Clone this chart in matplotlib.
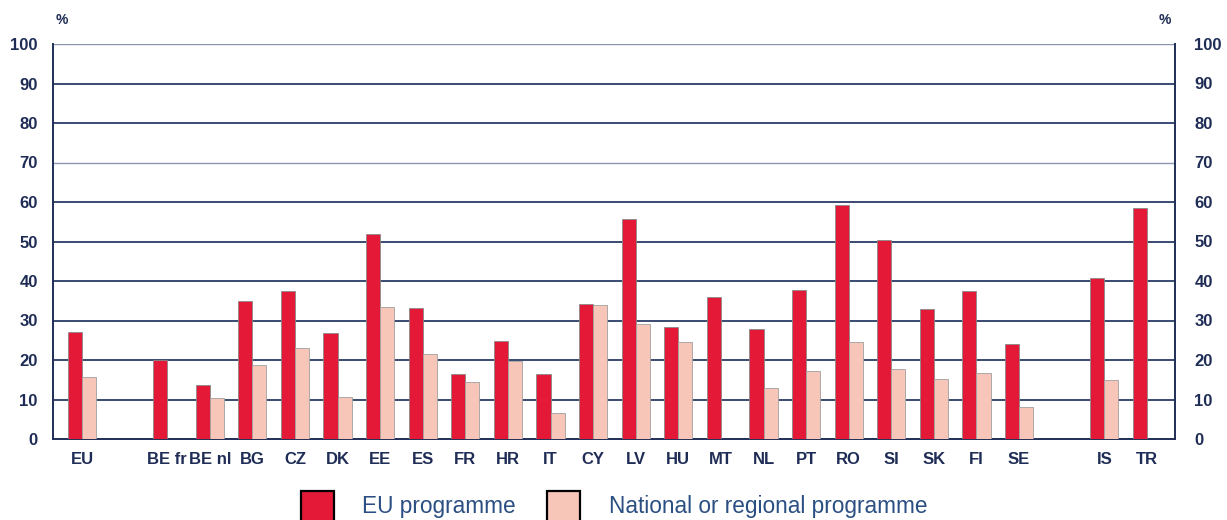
import numpy as np
import matplotlib
matplotlib.use("Agg")
import matplotlib.pyplot as plt
from matplotlib.patches import Rectangle
from matplotlib import font_manager

# Share of pupils taking part in mobility programmes (%)
countries = ["EU", "", "BE fr", "BE nl", "BG", "CZ", "DK", "EE", "ES", "FR", "HR", "IT",
             "CY", "LV", "HU", "MT", "NL", "PT", "RO", "SI", "SK", "FI", "SE", "", "IS", "TR"]
eu_programme = [27.2, None, 20.0, 13.6, 34.9, 37.5, 26.8, 51.9, 33.2, 16.5, 24.9, 16.5,
                34.2, 55.7, 28.4, 35.9, 27.8, 37.7, 59.2, 50.4, 33.0, 37.5, 24.1, None, 40.7, 58.5]
national_programme = [15.6, None, None, 10.3, 18.7, 23.0, 10.6, 33.5, 21.5, 14.4, 19.8, 6.5,
                      33.9, 29.0, 24.5, None, 12.9, 17.3, 24.6, 17.8, 15.1, 16.8, 8.0, None, 14.9, None]
y_ticks = [0, 10, 20, 30, 40, 50, 60, 70, 80, 90, 100]

RED = "#E31937"
PINK = "#F7C6B8"
NAVY = "#1F2D56"
GRID = "#3A4A72"
LEG_TXT = "#2B4F82"

available = {f.name for f in font_manager.fontManager.ttflist}
NARROW = "Liberation Sans Narrow" if "Liberation Sans Narrow" in available else "Liberation Sans"
TICK_SIZE = 14 if NARROW == "Liberation Sans Narrow" else 12
FONT = "Liberation Sans"

W, H = 1227, 520
fig = plt.figure(figsize=(W / 100, H / 100), dpi=100)
ax = fig.add_axes([53 / W, 1 - 439 / H, (1175 - 53) / W, (439 - 44) / H])

x = np.arange(len(countries))
bw = 0.33
for xi, v in zip(x, eu_programme):
    if v is not None:
        ax.bar(xi - bw / 2, v, width=bw, color=RED, edgecolor="#8A8A8A", linewidth=0.6, zorder=3)
for xi, v in zip(x, national_programme):
    if v is not None:
        ax.bar(xi + bw / 2, v, width=bw, color=PINK, edgecolor="#A0A0A0", linewidth=0.6, zorder=3)

ax.set_xlim(-0.68, len(countries) - 1 + 0.66)
ax.set_ylim(0, 100)

for t in y_ticks[1:-1]:
    lw = 1.0 if t == 70 else 1.4
    col = "#8A97B3" if t == 70 else GRID
    ax.axhline(t, color=col, linewidth=lw, zorder=1)
ax.axhline(100, color="#8A97B3", linewidth=1.0, zorder=1)

ax.spines["top"].set_visible(False)
for side in ["left", "right", "bottom"]:
    ax.spines[side].set_color(NAVY)
    ax.spines[side].set_linewidth(1.4)

ax.set_xticks(x)
ax.set_xticklabels(countries, fontsize=TICK_SIZE, fontweight="bold", color=NAVY, family=NARROW)
ax.tick_params(axis="x", length=0, pad=9)
ax.set_yticks(y_ticks)
ax.set_yticklabels([str(t) for t in y_ticks], fontsize=TICK_SIZE, fontweight="bold",
                   color=NAVY, family=NARROW)
ax.tick_params(axis="y", length=0, pad=11)

# Same scale repeated on the right-hand side
ax2 = ax.twinx()
ax2.set_ylim(ax.get_ylim())
ax2.set_yticks(y_ticks)
ax2.set_yticklabels([str(t) for t in y_ticks], fontsize=TICK_SIZE, fontweight="bold",
                    color=NAVY, family=NARROW)
ax2.tick_params(axis="y", length=0, pad=14)
for s in ax2.spines.values():
    s.set_visible(False)

fig.text(62 / W, 1 - 20 / H, "%", fontsize=10, fontweight="bold", color=NAVY, family=FONT,
         ha="center", va="center")
fig.text(1165 / W, 1 - 20 / H, "%", fontsize=10, fontweight="bold", color=NAVY, family=FONT,
         ha="center", va="center")

# Legend
for x0, col, label, tx in [(301, RED, "EU programme", 362),
                           (547, PINK, "National or regional programme", 609)]:
    fig.patches.append(Rectangle((x0 / W, 1 - 524 / H), 33 / W, 33 / H, transform=fig.transFigure,
                                 facecolor=col, edgecolor="black", linewidth=1.6))
    fig.text(tx / W, 1 - 506 / H, label, fontsize=16.3, color=LEG_TXT, family=FONT,
             ha="left", va="center")

fig.savefig("out.png", dpi=100)
